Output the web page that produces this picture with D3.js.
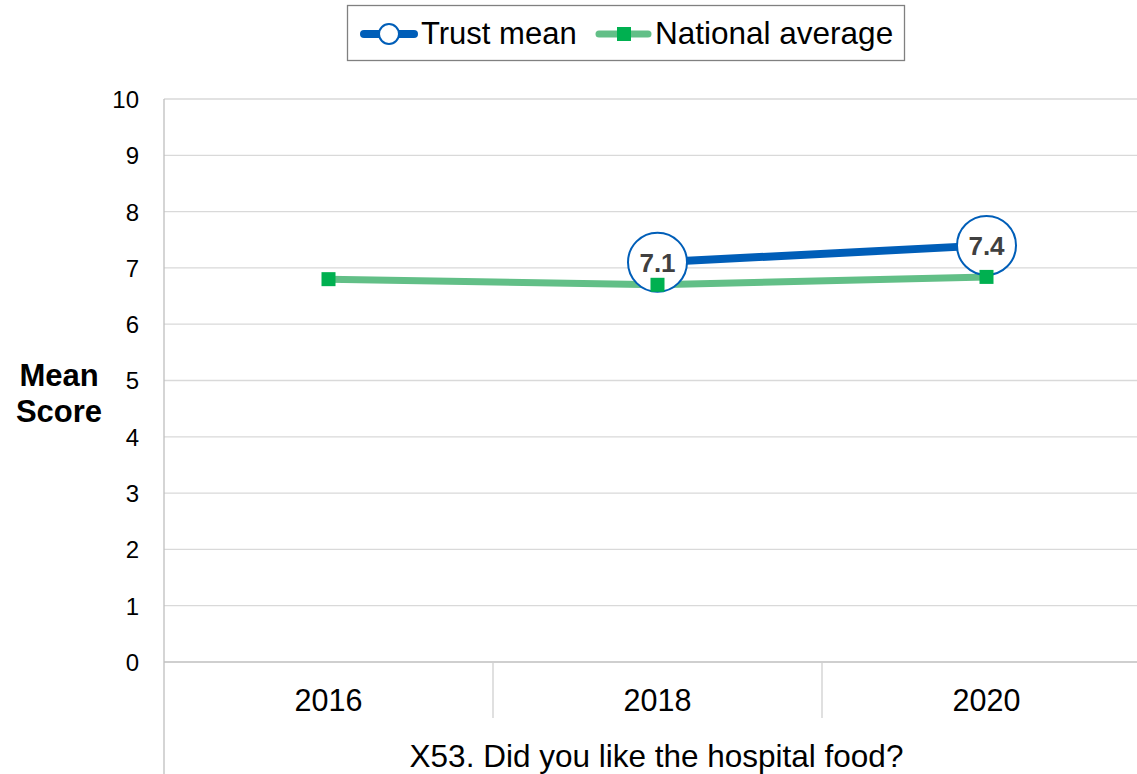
<!DOCTYPE html>
<html>
<head>
<meta charset="utf-8">
<script src="https://cdn.jsdelivr.net/npm/d3@7"></script>
<style>
  html, body { margin: 0; padding: 0; background: #fff; }
  svg { display: block; font-family: "Liberation Sans", Arial, sans-serif; }
</style>
</head>
<body>
<svg id="chart" width="1137" height="774"></svg>
<script>
// Survey years and scores
const years = ["2016", "2018", "2020"];
const trustMean = [null, 7.1, 7.4];
const nationalAverage = [6.8, 6.7, 6.84];
const yTicks = [0, 1, 2, 3, 4, 5, 6, 7, 8, 9, 10];
const questionLabel = "X53. Did you like the hospital food?";
const yTitle = ["Mean", "Score"];
const legendLabels = ["Trust mean", "National average"];

const blue = "#005eb8";
const greenLine = "#62bf87";
const greenMark = "#00b050";

const svg = d3.select("#chart");

const plot = { left: 164, right: 1151, top: 99, bottom: 662 };

const x = d3.scaleBand().domain(years).range([plot.left, plot.right]).padding(0);
const y = d3.scaleLinear().domain([0, 10]).range([plot.bottom, plot.top]);

// Horizontal gridlines
svg.append("g")
  .selectAll("line")
  .data(yTicks.filter(d => d > 0))
  .join("line")
  .attr("x1", plot.left).attr("x2", plot.right)
  .attr("y1", d => y(d)).attr("y2", d => y(d))
  .attr("stroke", "#d9d9d9").attr("stroke-width", 1.3);

// Y axis
const yAxis = svg.append("g")
  .attr("transform", `translate(${plot.left},0)`)
  .call(d3.axisLeft(y).tickValues(yTicks).tickSize(0).tickPadding(25).tickFormat(d3.format("d")));
yAxis.select(".domain").remove();
yAxis.selectAll("text").attr("font-size", 24).attr("fill", "#000").attr("font-family", "Liberation Sans, Arial, sans-serif").attr("dy", "0.35em");

// Vertical axis line running down through the category area
svg.append("line")
  .attr("x1", plot.left).attr("x2", plot.left)
  .attr("y1", plot.top).attr("y2", 774)
  .attr("stroke", "#bfbfbf").attr("stroke-width", 1.3);

// Baseline
svg.append("line")
  .attr("x1", plot.left).attr("x2", plot.right)
  .attr("y1", plot.bottom).attr("y2", plot.bottom)
  .attr("stroke", "#bfbfbf").attr("stroke-width", 1.5);

// Category dividers
svg.append("g")
  .selectAll("line")
  .data(years.slice(1).concat(["end"]))
  .join("line")
  .attr("x1", (d, i) => plot.left + x.bandwidth() * (i + 1))
  .attr("x2", (d, i) => plot.left + x.bandwidth() * (i + 1))
  .attr("y1", plot.bottom).attr("y2", 718)
  .attr("stroke", "#d0d0d0").attr("stroke-width", 1.3);

// Category labels
svg.append("g")
  .selectAll("text")
  .data(years)
  .join("text")
  .attr("x", d => x(d) + x.bandwidth() / 2)
  .attr("y", 711)
  .attr("text-anchor", "middle")
  .attr("font-size", 30.5)
  .text(d => d);

// Question label spanning all categories
svg.append("text")
  .attr("x", (plot.left + plot.right) / 2 - 1)
  .attr("y", 767)
  .attr("text-anchor", "middle")
  .attr("font-size", 31.5)
  .text(questionLabel);

// Y axis title
svg.append("text")
  .attr("x", 59).attr("y", 386)
  .attr("text-anchor", "middle")
  .attr("font-size", 31).attr("font-weight", "bold")
  .selectAll("tspan")
  .data(yTitle)
  .join("tspan")
  .attr("x", 59)
  .attr("dy", (d, i) => i === 0 ? 0 : 36)
  .text(d => d);

const cx = d => x(d) + x.bandwidth() / 2;

// National average line
const natData = years.map((yr, i) => ({ yr, v: nationalAverage[i] })).filter(d => d.v != null);
svg.append("path")
  .datum(natData)
  .attr("fill", "none")
  .attr("stroke", greenLine)
  .attr("stroke-width", 7)
  .attr("d", d3.line().x(d => cx(d.yr)).y(d => y(d.v)));

// Trust mean line
const trustData = years.map((yr, i) => ({ yr, v: trustMean[i] })).filter(d => d.v != null);
svg.append("path")
  .datum(trustData)
  .attr("fill", "none")
  .attr("stroke", blue)
  .attr("stroke-width", 8)
  .attr("d", d3.line().x(d => cx(d.yr)).y(d => y(d.v)));

// Trust mean markers with value labels
const tm = svg.append("g").selectAll("g").data(trustData).join("g")
  .attr("transform", d => `translate(${cx(d.yr)},${y(d.v)})`);
tm.append("circle")
  .attr("r", 29.5)
  .attr("fill", "#fff")
  .attr("stroke", blue)
  .attr("stroke-width", 2);
tm.append("text")
  .attr("text-anchor", "middle")
  .attr("dy", "0.36em")
  .attr("font-size", 26)
  .attr("font-weight", "bold")
  .attr("fill", "#404040")
  .text(d => d3.format(".1f")(d.v));

// National average markers
svg.append("g").selectAll("rect").data(natData).join("rect")
  .attr("x", d => cx(d.yr) - 7)
  .attr("y", d => y(d.v) - 7)
  .attr("width", 14).attr("height", 14)
  .attr("fill", greenMark);

// Legend
const legend = svg.append("g");
legend.append("rect")
  .attr("x", 347.5).attr("y", 5.5)
  .attr("width", 557).attr("height", 55)
  .attr("fill", "#fff")
  .attr("stroke", "#808080").attr("stroke-width", 1.3);

legend.append("line")
  .attr("x1", 364).attr("x2", 414).attr("y1", 34).attr("y2", 34)
  .attr("stroke", blue).attr("stroke-width", 8).attr("stroke-linecap", "round");
legend.append("circle")
  .attr("cx", 389).attr("cy", 34).attr("r", 10)
  .attr("fill", "#fff").attr("stroke", blue).attr("stroke-width", 2);
legend.append("text")
  .attr("x", 421).attr("y", 44)
  .attr("font-size", 31)
  .text(legendLabels[0]);

legend.append("line")
  .attr("x1", 599).attr("x2", 648).attr("y1", 34).attr("y2", 34)
  .attr("stroke", greenLine).attr("stroke-width", 7).attr("stroke-linecap", "round");
legend.append("rect")
  .attr("x", 617).attr("y", 27).attr("width", 14).attr("height", 14)
  .attr("fill", greenMark);
legend.append("text")
  .attr("x", 655).attr("y", 44)
  .attr("font-size", 31.5)
  .text(legendLabels[1]);
</script>
</body>
</html>
